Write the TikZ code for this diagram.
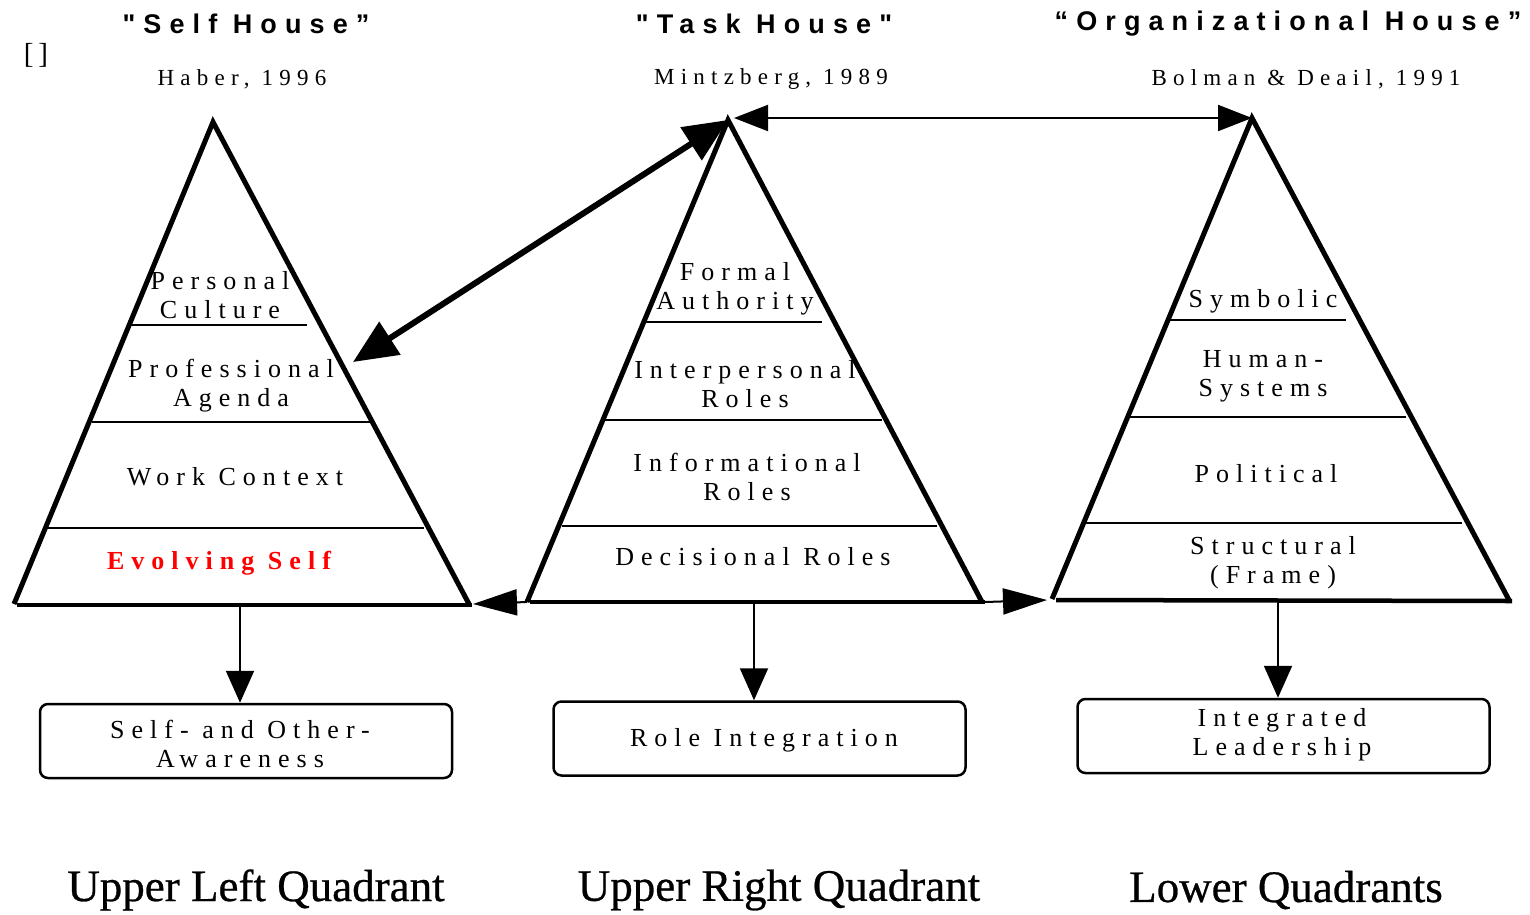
\documentclass[tikz,border=0pt]{standalone}
\usepackage{fontspec}
\setmainfont{Liberation Serif}
\newfontfamily\spaced[LetterSpace=27]{Liberation Serif}
\newfontfamily\subfont[LetterSpace=27]{Liberation Serif}
\newfontfamily\titlefont[LetterSpace=30]{Liberation Sans}
\newfontfamily\quadfont[FakeBold=0.6]{Liberation Serif}
\usetikzlibrary{arrows.meta}
\tikzset{
  tri/.style={line width=5pt, line join=miter},
  basel/.style={line width=4.5pt},
  divider/.style={line width=2pt},
  lbl/.style={inner sep=0pt, align=center, font=\spaced\fontsize{26}{29}\selectfont},
  ttl/.style={inner sep=0pt, font=\titlefont\bfseries\fontsize{27}{30}\selectfont},
  sub/.style={inner sep=0pt, font=\subfont\fontsize{23}{26}\selectfont},
  quad/.style={inner sep=0pt, font=\quadfont\fontsize{45}{50}\selectfont},
  outbox/.style={draw, line width=2.5pt, rounded corners=8pt, minimum width=412pt, minimum height=74pt, inner sep=0pt},
  boxtext/.style={inner sep=0pt, align=center, font=\spaced\fontsize{26}{29}\selectfont},
  bigarrow/.style={line width=6pt, {Triangle[length=44pt,width=38pt]}-{Triangle[length=44pt,width=38pt]}},
  toparrow/.style={line width=2pt, {Triangle[length=34pt,width=26pt]}-{Triangle[length=34pt,width=26pt]}},
  sidearrow/.style={line width=2pt, -{Triangle[length=44pt,width=26pt]}},
  downarrow/.style={line width=2pt, -{Triangle[length=32pt,width=28pt]}},
}
\begin{document}
\begin{tikzpicture}[x=1pt,y=-1pt]
\useasboundingbox (0,0) rectangle (1530,914);
% titles
\node[ttl] (t1) at (246,24) {"Self House”};
\node[ttl] (t2) at (764,24) {"Task House"};
\node[ttl] (t3) at (1288,24) {“Organizational House”};
\node[sub] (s1) at (242,79) {Haber, 1996};
\node[sub] (s2) at (771,79) {Mintzberg, 1989};
\node[sub] (s3) at (1306,79) {Bolman \& Deail, 1991};
\node[inner sep=0pt, font=\fontsize{29}{32}\selectfont] (br) at (36,55) {[\,]};
% triangle corners
\coordinate (A1) at (213,122); \coordinate (L1) at (14,604); \coordinate (R1) at (469,604);
\coordinate (A2) at (728,120); \coordinate (L2) at (527,602); \coordinate (R2) at (982,602);
\coordinate (A3) at (1252,118); \coordinate (L3) at (1052,599); \coordinate (R3) at (1509,600);
% triangles
\draw[tri] (L1) -- (A1) -- (R1);
\draw[basel] (17,605) -- (472,605);
\draw[tri] (L2) -- (A2) -- (R2);
\draw[basel] (530,602) -- (985,602);
\draw[tri] (L3) -- (A3) -- (R3);
\draw[basel] (1056,600) -- (1512,601);
% dividers
\draw[divider] (131,325) -- (307,325);
\draw[divider] (92,422) -- (370,422);
\draw[divider] (48,528) -- (424,528);
\draw[divider] (645,322) -- (822,322);
\draw[divider] (605,420) -- (882,420);
\draw[divider] (562,526) -- (937,526);
\draw[divider] (1170,320) -- (1346,320);
\draw[divider] (1130,417) -- (1406,417);
\draw[divider] (1085,523) -- (1462,523);
% layer labels
\node[lbl] (p1) at (220,295) {Personal\\Culture};
\node[lbl] (p2) at (231,386) {Professional\\Agenda};
\node[lbl] (p3) at (235,477) {Work Context};
\node[lbl, text=red, font=\spaced\bfseries\fontsize{26}{29}\selectfont] (p4) at (219,563) {Evolving Self};
\node[lbl] (m1) at (735,289) {Formal\\Authority};
\node[lbl] (m2) at (745,384) {Interpersonal\\Roles};
\node[lbl] (m3) at (747,477) {Informational\\Roles};
\node[lbl] (m4) at (753,557) {Decisional Roles};
\node[lbl] (o1) at (1263,301) {Symbolic};
\node[lbl] (o2) at (1263,376) {Human-\\Systems};
\node[lbl] (o3) at (1266,474) {Political};
\node[lbl] (o4) at (1273,563) {Structural\\(Frame)};
% connectors between houses
\coordinate (d1) at (353,362);
\draw[bigarrow] (d1) -- (A2);
\coordinate (t2a) at (734,118);
\draw[toparrow] (t2a) -- (A3);
\coordinate (b1) at (473,604);
\draw[sidearrow] (L2) -- (b1);
\coordinate (b3) at (1047,600);
\draw[sidearrow] (985,602) -- (b3);
% outcome boxes
\node[outbox] (x1) at (246,741) {};
\node[outbox] (x2) at (759.5,738.5) {};
\node[outbox] (x3) at (1283.5,736) {};
\node[boxtext] (x1t) at (240,744) {Self- and Other-\\Awareness};
\node[boxtext] (x2t) at (764,740) {Role Integration};
\node[boxtext] (x3t) at (1282,735) {Integrated\\Leadership};
\coordinate (u1) at (240,606);
\coordinate (u2) at (754,603);
\coordinate (u3) at (1278,601);
\draw[downarrow] (u1) -- (u1 |- x1.north);
\draw[downarrow] (u2) -- (u2 |- x2.north);
\draw[downarrow] (u3) -- (u3 |- x3.north);
% quadrant labels
\node[quad] (q1) at (256,890) {Upper Left Quadrant};
\node[quad] (q2) at (779,890) {Upper Right Quadrant};
\node[quad] (q3) at (1286,890) {Lower Quadrants};
\end{tikzpicture}
\end{document}
